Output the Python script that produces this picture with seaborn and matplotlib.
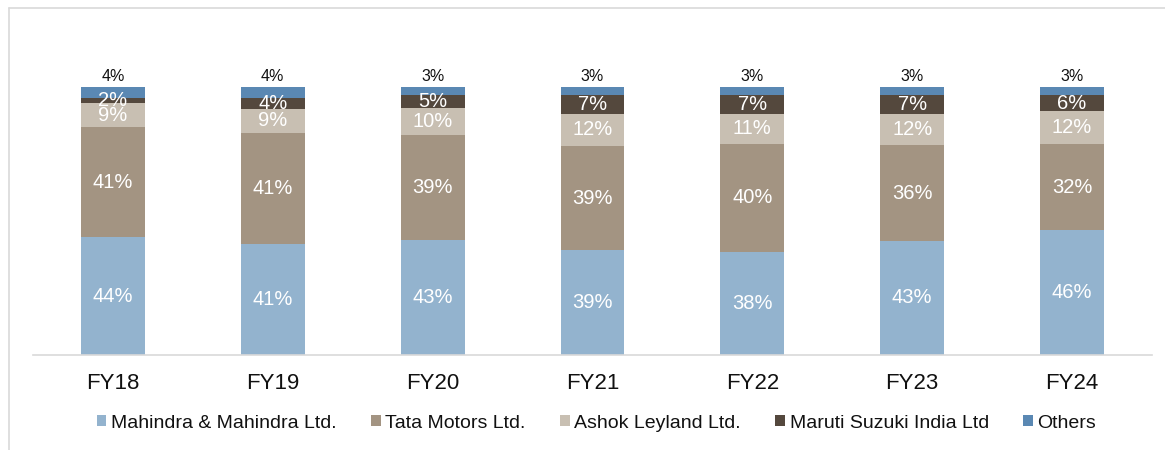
import matplotlib
matplotlib.use("Agg")
import matplotlib.pyplot as plt
import seaborn as sns
import numpy as np
import pandas as pd
from matplotlib.patches import Patch
from matplotlib.lines import Line2D

years = ["FY18", "FY19", "FY20", "FY21", "FY22", "FY23", "FY24"]
series_names = ["Mahindra & Mahindra Ltd.", "Tata Motors Ltd.", "Ashok Leyland Ltd.",
                "Maruti Suzuki India Ltd", "Others"]
mahindra = [44, 41, 43, 39, 38, 43, 46]
tata = [41, 41, 39, 39, 40, 36, 32]
ashok = [9, 9, 10, 12, 11, 12, 12]
maruti = [2, 4, 5, 7, 7, 7, 6]
others = [4, 4, 3, 3, 3, 3, 3]
colors = ["#93B3CE", "#A39482", "#C8BFB2", "#54483D", "#5A88B3"]

sns.set_theme(style="white")
plt.rcParams["font.family"] = ["Liberation Sans", "DejaVu Sans"]

values = np.array([mahindra, tata, ashok, maruti, others], dtype=float)
# 100% stacked: each bar scaled to its total
shares = values / values.sum(axis=0) * 100
cum = np.cumsum(shares, axis=0)

fig = plt.figure(figsize=(11.65, 4.5), dpi=100)
ax = fig.add_axes([33 / 1165, 95 / 450, (1152 - 33) / 1165, (355 - 87) / 450])

# draw cumulative bars from top layer down
for i in range(len(values) - 1, -1, -1):
    df = pd.DataFrame({"year": years, "v": cum[i]})
    sns.barplot(data=df, x="year", y="v", color=colors[i], width=0.4,
                saturation=1, ax=ax, linewidth=0, errorbar=None)

# labels
for j in range(len(years)):
    for i in range(4):
        bottom = cum[i - 1][j] if i > 0 else 0
        mid = bottom + shares[i][j] / 2
        ax.text(j, mid, f"{int(values[i][j])}%", ha="center", va="center",
                color="white", fontsize=14.5)
    ax.text(j, cum[4][j] + 1.0, f"{others[j]}%", ha="center", va="bottom",
            color="#111111", fontsize=11.5, clip_on=False)

ax.set_xlim(-0.5, 6.5)
ax.set_ylim(0, 100)
ax.set_xlabel("")
ax.set_ylabel("")
ax.set_yticks([])
for s in ["top", "right", "left"]:
    ax.spines[s].set_visible(False)
ax.spines["bottom"].set_color("#D9D9D9")
ax.spines["bottom"].set_linewidth(1.2)
ax.tick_params(axis="x", length=0, pad=13, labelsize=16, labelcolor="#111111")

handles = [Patch(facecolor=c, edgecolor="none") for c in colors]
fig.legend(handles, series_names, loc="center", bbox_to_anchor=(0.512, 1 - 423 / 450),
           ncol=5, frameon=False, fontsize=14, handlelength=0.5, handleheight=0.5,
           handletextpad=0.25, columnspacing=1.75, labelcolor="#111111")

# outer frame lines (top and left)
fig.add_artist(Line2D([9 / 1165, 1.0], [1 - 8 / 450, 1 - 8 / 450], transform=fig.transFigure,
                      color="#D9D9D9", linewidth=1.2))
fig.add_artist(Line2D([9 / 1165, 9 / 1165], [0, 1 - 8 / 450], transform=fig.transFigure,
                      color="#D9D9D9", linewidth=1.2))

fig.savefig("out.png", dpi=100)
